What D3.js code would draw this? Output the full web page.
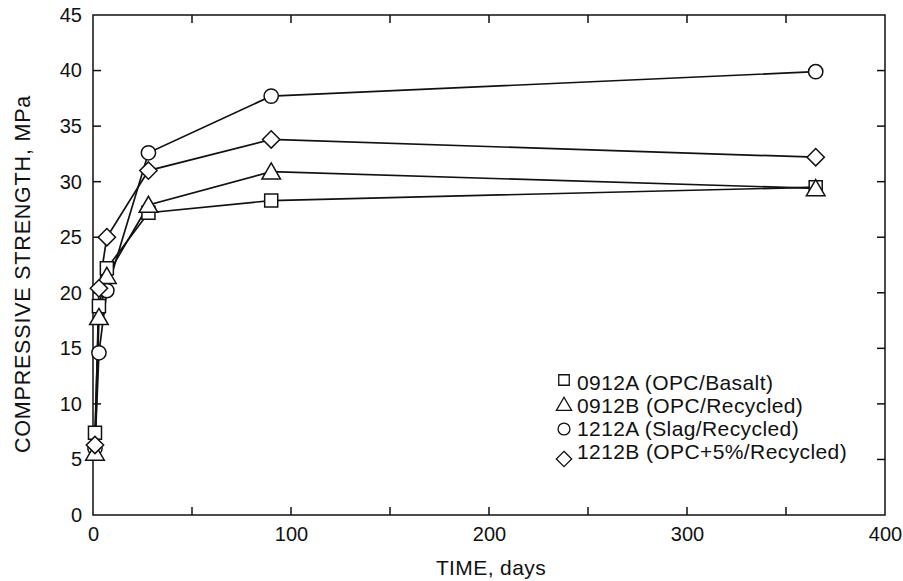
<!DOCTYPE html>
<html>
<head>
<meta charset="utf-8">
<script src="https://cdn.jsdelivr.net/npm/d3@7"></script>
<style>
  body { margin: 0; background: #fff; }
  text { font-family: "Liberation Sans", Arial, sans-serif; fill: #111; }
</style>
</head>
<body>
<script>
// test ages in days
var days = [1, 3, 7, 28, 90, 365];

// strength values, MPa
var s0912A = [7.4, 18.8, 22.2, 27.2, 28.3, 29.5];
var s0912B = [5.6, 17.8, 21.5, 27.9, 30.9, 29.4];
var s1212A = [6.0, 14.6, 20.2, 32.6, 37.7, 39.9];
var s1212B = [6.3, 20.4, 25.0, 31.0, 33.8, 32.2];

var seriesNames = ["0912A (OPC/Basalt)", "0912B (OPC/Recycled)", "1212A (Slag/Recycled)", "1212B (OPC+5%/Recycled)"];
var seriesShapes = ["square", "triangle", "circle", "diamond"];

var xTicks = [0, 100, 200, 300, 400];
var yTicks = [0, 5, 10, 15, 20, 25, 30, 35, 40, 45];

var w = 903, h = 581;
// plot box edges (window.top is taken, so prefix them)
var pLeft = 93, pRight = 885, pTop = 15, pBottom = 515;

var series = [s0912A, s0912B, s1212A, s1212B].map(function(vals, i) {
  return {
    name: seriesNames[i],
    shape: seriesShapes[i],
    points: days.map(function(d, j) { return { day: d, val: vals[j] }; })
  };
});

var x = d3.scaleLinear().domain([0, 400]).range([pLeft, pRight]);
var y = d3.scaleLinear().domain([0, 45]).range([pBottom, pTop]);

var svg = d3.select("body").append("svg")
  .attr("width", w)
  .attr("height", h);

// frame
svg.append("rect")
  .attr("x", pLeft).attr("y", pTop)
  .attr("width", pRight - pLeft).attr("height", pBottom - pTop)
  .attr("fill", "none").attr("stroke", "#111").attr("stroke-width", 1.5);

// axes with inward ticks on all four sides
var tickLen = 8;
var minorX = d3.range(0, 401, 50);

var xAxis = d3.axisBottom(x).tickValues(xTicks).tickSize(0).tickPadding(12).tickFormat(d3.format("d"));
svg.append("g").attr("transform", "translate(0," + pBottom + ")").call(xAxis)
  .call(function(g) { g.select(".domain").remove(); })
  .selectAll("text").attr("font-size", 20).attr("fill", "#111");

var yAxis = d3.axisLeft(y).tickValues(yTicks).tickSize(0).tickPadding(11);
svg.append("g").attr("transform", "translate(" + pLeft + ",0)").call(yAxis)
  .call(function(g) { g.select(".domain").remove(); })
  .selectAll("text").attr("font-size", 20).attr("fill", "#111");

var tickG = svg.append("g").attr("stroke", "#111").attr("stroke-width", 1.5);
minorX.slice(1, -1).forEach(function(v) {
  tickG.append("line").attr("x1", x(v)).attr("x2", x(v)).attr("y1", pBottom).attr("y2", pBottom - tickLen);
  tickG.append("line").attr("x1", x(v)).attr("x2", x(v)).attr("y1", pTop).attr("y2", pTop + tickLen);
});
yTicks.slice(1, -1).forEach(function(v) {
  tickG.append("line").attr("x1", pLeft).attr("x2", pLeft + tickLen).attr("y1", y(v)).attr("y2", y(v));
  tickG.append("line").attr("x1", pRight).attr("x2", pRight - tickLen).attr("y1", y(v)).attr("y2", y(v));
});

// axis titles
svg.append("text")
  .attr("x", 491).attr("y", 575)
  .attr("text-anchor", "middle").attr("font-size", 21)
  .attr("letter-spacing", 0.4)
  .text("TIME, days");

svg.append("text")
  .attr("transform", "translate(30," + 274 + ") rotate(-90)")
  .attr("text-anchor", "middle").attr("font-size", 21.5)
  .attr("letter-spacing", 0.8)
  .text("COMPRESSIVE STRENGTH,  MPa");

// marker shapes
var symbols = {
  square: d3.symbol().type(d3.symbolSquare).size(170),
  triangle: d3.symbol().type(d3.symbolTriangle).size(150),
  circle: d3.symbol().type(d3.symbolCircle).size(160),
  diamond: d3.symbol().type(d3.symbolDiamond2).size(190)
};

var line = d3.line()
  .x(function(d) { return x(d.day); })
  .y(function(d) { return y(d.val); });

svg.append("g").selectAll("path")
  .data(series)
  .enter().append("path")
  .attr("d", function(d) { return line(d.points); })
  .attr("fill", "none")
  .attr("stroke", "#111")
  .attr("stroke-width", 1.7);

// draw circles first so the 1-day circle sits underneath
var drawOrder = [series[2], series[0], series[1], series[3]];
drawOrder.forEach(function(s) {
  svg.append("g").selectAll("path")
    .data(s.points)
    .enter().append("path")
    .attr("transform", function(d) {
      var dy = s.shape === "triangle" ? 2 : 0;
      return "translate(" + x(d.day) + "," + (y(d.val) + dy) + ")";
    })
    .attr("d", symbols[s.shape]())
    .attr("fill", "#fff")
    .attr("stroke", "#111")
    .attr("stroke-width", 1.5);
});

// legend
var legendSymbols = {
  square: d3.symbol().type(d3.symbolSquare).size(110),
  triangle: d3.symbol().type(d3.symbolTriangle).size(100),
  circle: d3.symbol().type(d3.symbolCircle).size(110),
  diamond: d3.symbol().type(d3.symbolDiamond2).size(150)
};
var legendY = [383, 406, 429, 452];
var legend = svg.append("g");
series.forEach(function(s, i) {
  var symY = legendY[i] + (i === 0 ? -3 : (i === 3 ? 7 : 0));
  legend.append("path")
    .attr("transform", "translate(564," + symY + ")")
    .attr("d", legendSymbols[s.shape]())
    .attr("fill", "#fff").attr("stroke", "#111").attr("stroke-width", 1.3);
  legend.append("text")
    .attr("x", 577).attr("y", legendY[i] + 7)
    .attr("font-size", 21)
    .attr("letter-spacing", 0.4)
    .text(s.name);
});
</script>
</body>
</html>
